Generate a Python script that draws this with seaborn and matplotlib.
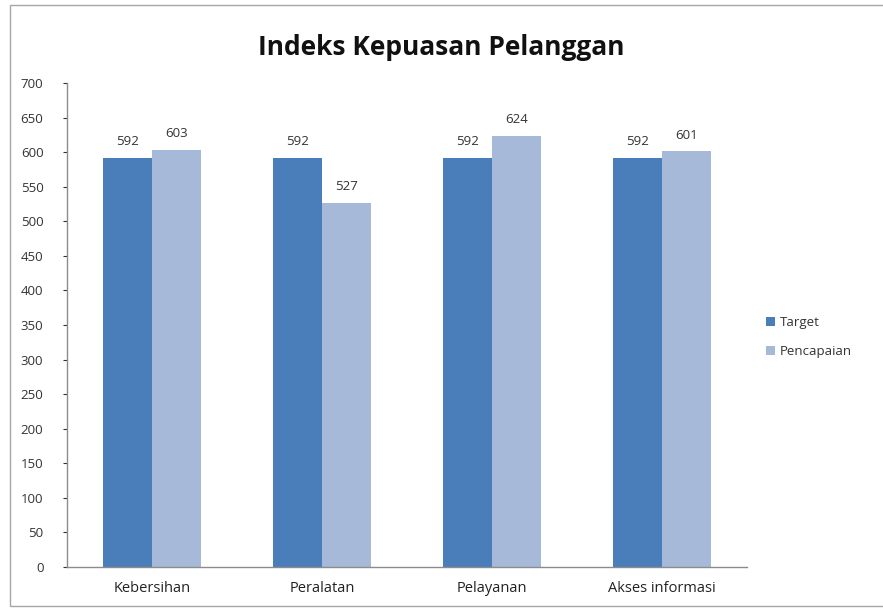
import pandas as pd
import seaborn as sns
import matplotlib.pyplot as plt
from matplotlib.patches import Rectangle

# chart data
categories = ['Kebersihan', 'Peralatan', 'Pelayanan', 'Akses informasi']
target = [592, 592, 592, 592]
pencapaian = [603, 527, 624, 601]
series_names = ['Target', 'Pencapaian']
y_ticks = list(range(0, 701, 50))

df = pd.DataFrame({
    'kategori': categories * 2,
    'nilai': target + pencapaian,
    'seri': [series_names[0]] * len(categories) + [series_names[1]] * len(categories),
})

sns.set_style('white')
plt.rcParams['font.family'] = ['Open Sans', 'DejaVu Sans']

fig = plt.figure(figsize=(8.83, 6.10), dpi=100)
ax = fig.add_axes([0.0759, 0.0705, 0.7701, 0.7935])

# outer chart frame like the spreadsheet chart area
fig.patches.append(Rectangle((0.011, 0.006), 1.2, 0.986, transform=fig.transFigure,
                             fill=False, edgecolor='#a6a6a6', linewidth=1.0))

sns.barplot(data=df, x='kategori', y='nilai', hue='seri',
            palette=['#4a7ebb', '#a7b9d8'], width=0.58, gap=0,
            saturation=1, linewidth=0, ax=ax, legend=True)

for cont in ax.containers:
    ax.bar_label(cont, padding=7, fontsize=9.5, color='#333333')

ax.set_ylim(0, 700)
ax.set_xlim(-0.5, len(categories) - 0.5)
ax.set_yticks(y_ticks)
ax.set_xlabel('')
ax.set_ylabel('')
ax.tick_params(axis='y', labelsize=9.5, colors='#333333', length=3, left=True,
               direction='out', pad=14)
ax.tick_params(axis='x', labelsize=10.5, colors='#222222', length=0, pad=10)
for lab in ax.get_yticklabels():
    lab.set_horizontalalignment('right')

for side in ['top', 'right']:
    ax.spines[side].set_visible(False)
for side in ['left', 'bottom']:
    ax.spines[side].set_color('#8c8c8c')
    ax.spines[side].set_linewidth(1.0)

leg = ax.legend(loc='center left', bbox_to_anchor=(1.01, 0.475), frameon=False,
                fontsize=9.5, handlelength=0.7, handleheight=0.7,
                handletextpad=0.4, labelspacing=1.2)
for t in leg.get_texts():
    t.set_color('#333333')

fig.text(0.5, 0.922, 'Indeks Kepuasan Pelanggan', ha='center', va='center',
         fontsize=19, fontweight='bold', color='#111111')

fig.savefig('out.png', dpi=100)
